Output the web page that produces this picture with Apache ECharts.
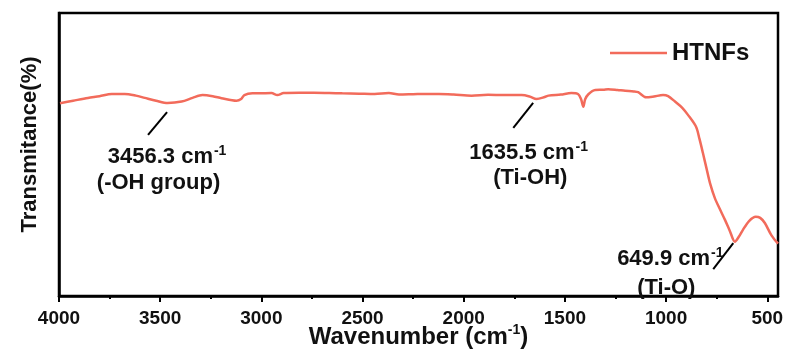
<!DOCTYPE html>
<html>
<head>
<meta charset="utf-8">
<script src="https://cdn.jsdelivr.net/npm/echarts@6/dist/echarts.min.js"></script>
<style>
  html, body { margin: 0; padding: 0; background: #fff; }
  #chart { width: 787px; height: 354px; }
</style>
</head>
<body>
<div id="chart"></div>
<script>
// FTIR spectrum of HTNFs
const wavenumber = [
  3995, 3930, 3857, 3800, 3739, 3675, 3620, 3576, 3520, 3463, 3394, 3340, 3291, 3240, 3197,
  3123, 3100, 3084, 3044, 3010, 2950, 2921, 2890, 2813, 2740, 2665, 2600, 2517, 2440, 2370,
  2320, 2250, 2180, 2123, 2050, 1961, 1880, 1800, 1714, 1675, 1640, 1600, 1581, 1520, 1468,
  1434, 1420, 1409, 1400, 1384, 1350, 1310, 1286, 1240, 1202, 1160, 1138, 1099, 1060, 1015,
  990, 956, 920, 892, 852, 835, 818, 800, 783, 759, 735, 709, 685, 660, 640,
  621, 590, 557, 535, 512, 480, 447
];
const transmittance = [
  68.1, 69.0, 70.0, 70.6, 71.4, 71.4, 70.8, 70.0, 69.0, 68.2, 68.7, 70.0, 71.0, 70.6, 69.9,
  69.0, 69.6, 71.0, 71.6, 71.6, 71.7, 71.0, 71.7, 71.8, 71.8, 71.7, 71.6, 71.5, 71.4, 71.7,
  71.2, 71.3, 71.4, 71.4, 71.2, 70.8, 71.1, 71.0, 71.0, 70.5, 69.6, 70.3, 70.8, 71.2, 71.7,
  71.3, 69.5, 66.9, 69.5, 71.3, 72.8, 72.9, 73.1, 72.8, 72.5, 72.3, 72.0, 70.2, 70.5, 71.0,
  70.6, 68.7, 66.5, 64.0, 59.8, 55.5, 50.5, 45.0, 39.9, 34.6, 30.8, 26.9, 23.0, 19.2, 21.0,
  23.3, 26.5, 28.0, 27.6, 25.8, 21.5, 18.5
];

const majorTicks = [4000, 3500, 3000, 2500, 2000, 1500, 1000, 500];
const minorTicks = [3750, 3250, 2750, 2250, 1750, 1250, 750];

// peak annotations: label lines, where they sit, and the leader line ends
const peakLabels = [
  { line1: "3456.3", line2: "(-OH group)", at1: [3466, 49.0], at2: [3508, 40.0], from: [3466, 65.0], to: [3560, 56.9] },
  { line1: "1635.5", line2: "(Ti-OH)", at1: [1679, 50.6], at2: [1671, 41.6], from: [1657, 68.2], to: [1755, 59.4] },
  { line1: "649.9", line2: "(Ti-O)", at1: [979, 13.0], at2: [999, 2.9], from: [668, 18.7], to: [767, 9.5] }
];

const LINE_COLOR = "#f26b5b";
const FONT = "Liberation Sans, Arial, sans-serif";

const rich = {
  a: { fontFamily: FONT, fontWeight: "bold", fontSize: 22, color: "#111", lineHeight: 26 },
  s: { fontFamily: FONT, fontWeight: "bold", fontSize: 14, color: "#111", lineHeight: 26, verticalAlign: "top", padding: [0, 0, 0, 1] }
};

const chart = echarts.init(document.getElementById("chart"), null, { renderer: "canvas" });

const markPoints = [];
for (const p of peakLabels) {
  markPoints.push({ coord: p.at1, value: "{a|" + p.line1 + " cm}{s|-1}" });
  markPoints.push({ coord: p.at2, value: "{a|" + p.line2 + "}" });
}

chart.setOption({
  backgroundColor: "#fff",
  animation: false,
  grid: {
    left: 59, right: 9, top: 13, bottom: 58,
    outerBoundsMode: "none",
    containLabel: false,
    show: true, borderColor: "#000", borderWidth: 2.5, backgroundColor: "transparent"
  },
  legend: {
    left: 605,
    top: 36,
    icon: "rect",
    itemWidth: 57,
    itemHeight: 2.5,
    itemGap: 6,
    textStyle: { fontFamily: FONT, fontWeight: "bold", fontSize: 24, color: "#111" },
    data: ["HTNFs"]
  },
  xAxis: [
    {
      type: "value",
      inverse: true,
      min: 447,
      max: 4000,
      name: "{a|Wavenumber (cm}{s|-1}{a|)}",
      nameLocation: "middle",
      nameGap: 27,
      nameMoveOverlap: false,
      nameTextStyle: {
        rich: {
          a: { fontFamily: FONT, fontWeight: "bold", fontSize: 24, color: "#111", lineHeight: 28 },
          s: { fontFamily: FONT, fontWeight: "bold", fontSize: 14, color: "#111", lineHeight: 28, verticalAlign: "top" }
        }
      },
      splitLine: { show: false },
      axisLine: { lineStyle: { color: "#000", width: 2.5 } },
      axisTick: { customValues: majorTicks, length: 6, lineStyle: { color: "#000", width: 2 } },
      axisLabel: {
        customValues: majorTicks,
        margin: 13,
        formatter: (v) => String(v),
        fontFamily: FONT, fontWeight: "bold", fontSize: 19, color: "#111"
      }
    },
    {
      type: "value",
      inverse: true,
      min: 447,
      max: 4000,
      position: "bottom",
      splitLine: { show: false },
      axisLine: { show: false },
      axisTick: { customValues: minorTicks, length: 3, lineStyle: { color: "#000", width: 2 } },
      axisLabel: { show: false }
    }
  ],
  yAxis: {
    type: "value",
    min: 0,
    max: 100,
    name: "Transmitance(%)",
    nameLocation: "middle",
    nameGap: 18,
    nameMoveOverlap: false,
    nameTextStyle: { fontFamily: FONT, fontWeight: "bold", fontSize: 22, color: "#111", padding: [0, 0, 0, 20] },
    splitLine: { show: false },
    axisLine: { show: true, lineStyle: { color: "#000", width: 2.5 } },
    axisTick: { show: false },
    axisLabel: { show: false }
  },
  series: [
    {
      name: "HTNFs",
      type: "line",
      data: wavenumber.map((w, i) => [w, transmittance[i]]),
      symbol: "none",
      smooth: 0.3,
      lineStyle: { color: LINE_COLOR, width: 2.5 },
      itemStyle: { color: LINE_COLOR },
      markPoint: {
        symbol: "circle",
        symbolSize: 0,
        label: { show: true, position: "inside", formatter: (d) => d.value, rich: rich },
        data: markPoints
      },
      markLine: {
        silent: true,
        symbol: "none",
        label: { show: false },
        lineStyle: { color: "#000", width: 2, type: "solid" },
        data: peakLabels.map((p) => [{ coord: p.from }, { coord: p.to }])
      }
    }
  ]
});
</script>
</body>
</html>
